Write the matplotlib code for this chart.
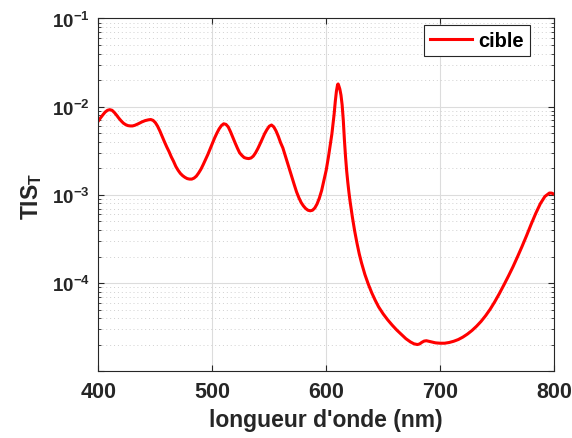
import math
import matplotlib
matplotlib.use("Agg")
import matplotlib.pyplot as plt
from matplotlib.ticker import LogLocator, FuncFormatter, NullFormatter, FixedLocator

plt.rcParams['font.family'] = ['Liberation Sans', 'DejaVu Sans']
plt.rcParams['font.weight'] = 'bold'
plt.rcParams['mathtext.fontset'] = 'custom'
plt.rcParams['mathtext.rm'] = 'Liberation Sans:bold'
plt.rcParams['mathtext.bf'] = 'Liberation Sans:bold'
plt.rcParams['mathtext.it'] = 'Liberation Sans:bold'
plt.rcParams['mathtext.default'] = 'bf'

# wavelength (nm) and TIS values
wavelength = [400, 402, 404, 406, 408, 410, 412, 414, 416, 418, 420, 422, 424, 426, 428,
              430, 432, 435, 438, 441, 444, 446, 448, 450, 452, 454, 456, 458, 460, 462,
              464, 466, 468, 470, 472, 474, 476, 478, 480, 482, 484, 486, 488, 490, 492,
              494, 496, 498, 500, 502, 504, 506, 508, 510, 512, 514, 516, 518, 520, 522,
              524, 526, 528, 530, 532, 534, 536, 538, 540, 542, 544, 546, 548, 550, 552,
              554, 556, 558, 560, 562, 564, 566, 568, 570, 572, 574, 576, 578, 580, 582,
              584, 586, 588, 590, 592, 594, 596, 598, 600, 602, 603, 604, 605, 606, 607,
              608, 609, 610, 610.5, 611, 612, 613, 614, 615, 616, 617, 618, 619, 620, 621,
              623, 625, 627, 629, 631, 634, 637, 640, 643, 646, 650, 654, 658, 662, 666,
              670, 674, 677, 680, 682, 684, 686, 688, 690, 693, 696, 700, 704, 708, 712,
              716, 720, 724, 728, 732, 736, 740, 744, 748, 752, 756, 760, 764, 768, 772,
              776, 780, 784, 788, 792, 796, 798, 800]
tis = [6.9e-3, 7.5e-3, 8.1e-3, 8.7e-3, 9.1e-3, 9.25e-3, 9.1e-3, 8.6e-3, 8.0e-3, 7.4e-3,
       6.9e-3, 6.5e-3, 6.25e-3, 6.1e-3, 6.05e-3, 6.05e-3, 6.15e-3, 6.4e-3, 6.7e-3, 6.95e-3,
       7.1e-3, 7.15e-3, 7.0e-3, 6.6e-3, 6.0e-3, 5.3e-3, 4.6e-3, 4.0e-3, 3.5e-3, 3.1e-3,
       2.7e-3, 2.4e-3, 2.1e-3, 1.9e-3, 1.75e-3, 1.65e-3, 1.58e-3, 1.53e-3, 1.51e-3, 1.51e-3,
       1.55e-3, 1.63e-3, 1.77e-3, 1.95e-3, 2.2e-3, 2.5e-3, 2.85e-3, 3.3e-3, 3.8e-3, 4.4e-3,
       5.0e-3, 5.6e-3, 6.1e-3, 6.4e-3, 6.3e-3, 5.9e-3, 5.2e-3, 4.5e-3, 3.9e-3, 3.4e-3,
       3.0e-3, 2.8e-3, 2.65e-3, 2.6e-3, 2.58e-3, 2.62e-3, 2.75e-3, 3.0e-3, 3.35e-3, 3.8e-3,
       4.35e-3, 4.95e-3, 5.5e-3, 6.0e-3, 6.2e-3, 5.9e-3, 5.3e-3, 4.6e-3, 3.9e-3, 3.4e-3,
       2.8e-3, 2.3e-3, 1.9e-3, 1.55e-3, 1.3e-3, 1.08e-3, 9.3e-4, 8.2e-4, 7.5e-4, 7.0e-4,
       6.7e-4, 6.6e-4, 6.7e-4, 7.1e-4, 7.9e-4, 9.2e-4, 1.12e-3, 1.45e-3, 1.9e-3, 2.7e-3,
       3.3e-3, 4.0e-3, 4.9e-3, 6.3e-3, 8.3e-3, 1.15e-2, 1.5e-2, 1.78e-2, 1.81e-2, 1.74e-2,
       1.58e-2, 1.35e-2, 1.05e-2, 7.1e-3, 4.2e-3, 2.7e-3, 1.86e-3, 1.38e-3, 1.06e-3, 8.4e-4,
       5.6e-4, 3.9e-4, 2.85e-4, 2.15e-4, 1.7e-4, 1.25e-4, 9.7e-5, 7.76e-5, 6.4e-5, 5.38e-5,
       4.48e-5, 3.83e-5, 3.33e-5, 2.93e-5, 2.62e-5, 2.34e-5, 2.15e-5, 2.05e-5, 2.01e-5,
       2.04e-5, 2.13e-5, 2.2e-5, 2.22e-5, 2.19e-5, 2.14e-5, 2.1e-5, 2.08e-5, 2.08e-5,
       2.12e-5, 2.19e-5, 2.29e-5, 2.44e-5, 2.64e-5, 2.9e-5, 3.24e-5, 3.68e-5, 4.27e-5,
       5.06e-5, 6.14e-5, 7.59e-5, 9.51e-5, 1.2e-4, 1.53e-4, 1.99e-4, 2.61e-4, 3.47e-4,
       4.66e-4, 6.17e-4, 7.94e-4, 9.59e-4, 1.05e-3, 1.047e-3, 1.02e-3]

xticks = [400, 500, 600, 700, 800]


def log_label(v, pos):
    # MATLAB leaves the bottom decade unlabelled here
    if v < 2e-5:
        return ''
    return '$10^{%d}$' % int(round(math.log10(v)))


fig = plt.figure(figsize=(5.72, 4.39), dpi=100)
ax = fig.add_axes([0.172, 0.152, 0.7965, 0.8036])

ax.plot(wavelength, tis, color='red', linewidth=2.2, label='cible')
ax.set_yscale('log')
ax.set_xlim(400, 800)
ax.set_ylim(1e-5, 1e-1)

ax.xaxis.set_major_locator(FixedLocator(xticks))
ax.yaxis.set_major_locator(LogLocator(base=10, numticks=10))
ax.yaxis.set_minor_locator(LogLocator(base=10, subs=range(2, 10), numticks=20))
ax.yaxis.set_major_formatter(FuncFormatter(log_label))
ax.yaxis.set_minor_formatter(NullFormatter())

ax.grid(True, which='major', color='#dcdcdc', linewidth=0.8)
ax.grid(True, which='minor', axis='y', color='#d0d0d0', linestyle=(0, (1, 3)), linewidth=0.7)
ax.set_axisbelow(True)

ax.tick_params(which='both', direction='in', top=True, right=True, colors='#262626')
ax.tick_params(axis='x', labelsize=15.5, pad=7)
ax.tick_params(axis='y', labelsize=13.5, pad=6)
ax.tick_params(which='major', length=4)
ax.tick_params(which='minor', length=2.5)
for s in ax.spines.values():
    s.set_color('#262626')
    s.set_linewidth(0.8)

ax.set_xlabel("longueur d'onde (nm)", fontsize=16.5, fontweight='bold', color='#262626',
              labelpad=4)
ax.set_ylabel("TIS$_T$", fontsize=16.5, fontweight='bold', color='#262626', labelpad=6)

leg = ax.legend(loc='upper right', bbox_to_anchor=(0.9473, 0.9824), borderaxespad=0,
                fontsize=14.5, fancybox=False, framealpha=1, edgecolor='#262626',
                handlelength=2.1, borderpad=0.3, handletextpad=0.3)
leg.get_frame().set_linewidth(0.8)

fig.savefig('out.png', dpi=100)
